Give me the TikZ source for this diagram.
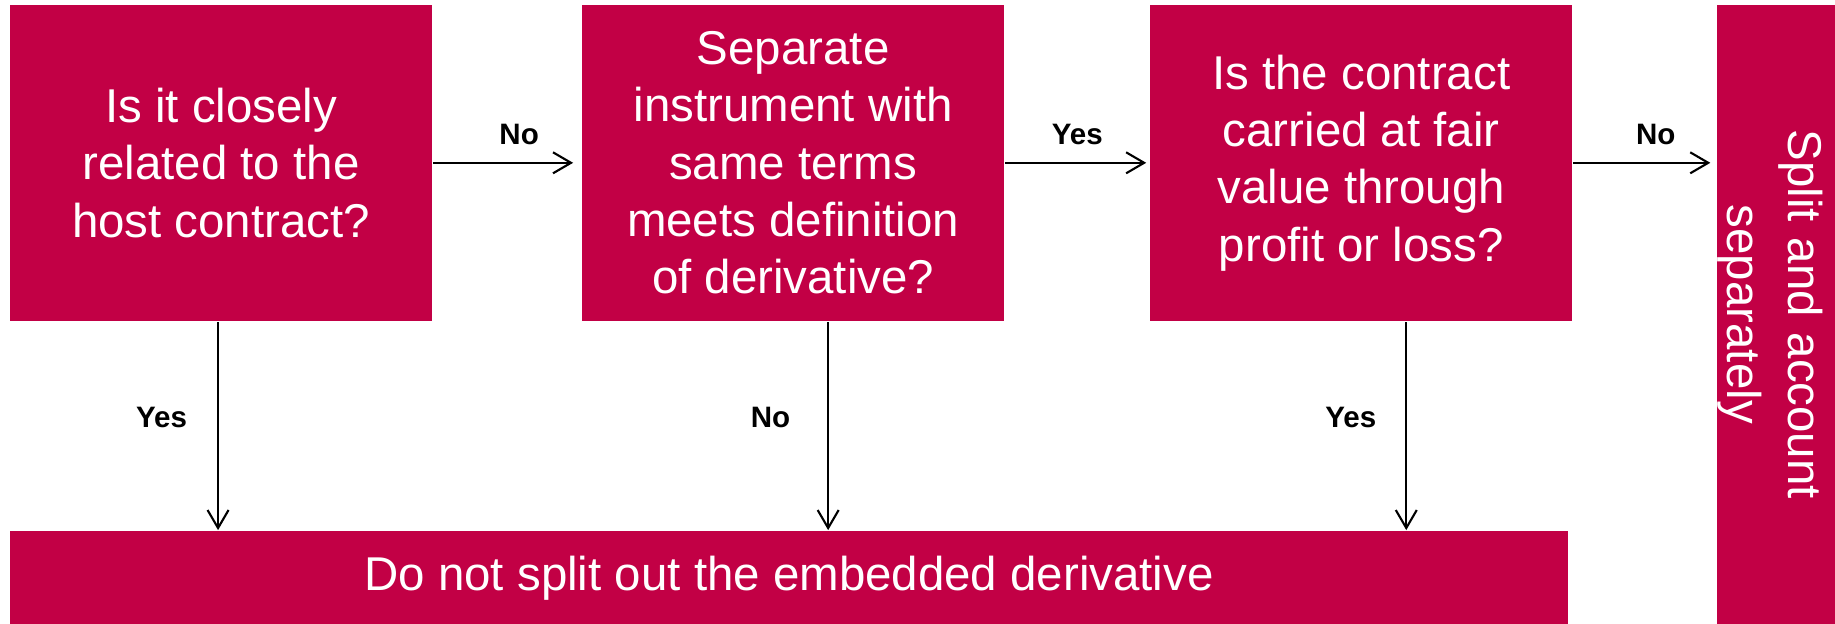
\documentclass[tikz,border=0pt]{standalone}
\usepackage{fontspec}
\setmainfont{Liberation Sans}
\usetikzlibrary{positioning,arrows.meta}
\definecolor{crimson}{HTML}{C20045}
\tikzset{every picture/.style={line width=0.6pt}}
\tikzset{
  qbox/.style={rectangle, fill=crimson, text=white, minimum width=4.22cm, minimum height=3.165cm, align=center, inner sep=0pt, font=\fontsize{13.5}{16.3}\selectfont},
  answer/.style={font=\fontsize{8.4}{10}\selectfont\bfseries, inner sep=0pt},
  flow/.style={-{Straight Barb[length=1.8mm, width=2.1mm]}}
}
\begin{document}
\begin{tikzpicture}
\useasboundingbox (0,0) rectangle (18.35,-6.23);
    % Questions along the top
\node[qbox, anchor=north west] (q1) at (0.09,-0.035) {Is it closely\\related to the\\host contract?};
\node[qbox, right=1.48cm of q1] (q2) {Separate\\instrument with\\same terms\\meets definition\\of derivative?};
\node[qbox, right=1.44cm of q2] (q3) {Is the contract\\carried at fair\\value through\\profit or loss?};

    % Outcomes
\node[rectangle, fill=crimson, minimum width=1.25cm, minimum height=6.195cm, inner sep=0pt, right=1.43cm of q3.north east, anchor=north west] (split) {};
\node[rotate=-90, text=white, text width=5cm, align=center, inner sep=0pt, font=\fontsize{13.5}{17.2}\selectfont] (splittxt) at ([xshift=-0.095cm]split.center) {Split and account\\separately};
\node[rectangle, fill=crimson, text=white, minimum width=15.58cm, minimum height=0.95cm, inner sep=0pt, font=\fontsize{13.5}{16.3}\selectfont, below=2.08cm of q1.south west, anchor=north west] (keep) {Do not split out the embedded derivative};

    % Connections
    \draw[flow, shorten >=0.08cm] (q1.east) -- (q2.west) node[answer, midway, above=0.17cm, xshift=0.12cm] {No};
    \draw[flow, shorten >=0.03cm] (q2.east) -- (q3.west) node[answer, midway, above=0.17cm] {Yes};
    \draw[flow, shorten >=0.06cm] (q3.east) -- (split.west |- q3.east) node[answer, midway, above=0.17cm, xshift=0.11cm] {No};
    \draw[flow] ([xshift=-0.03cm]q1.south) -- ([xshift=-0.03cm]q1.south |- keep.north) node[answer, pos=0.46, left=0.3cm] {Yes};
    \draw[flow] ([xshift=0.35cm]q2.south) -- ([xshift=0.35cm]q2.south |- keep.north) node[answer, pos=0.46, left=0.37cm] {No};
    \draw[flow] ([xshift=0.45cm]q3.south) -- ([xshift=0.45cm]q3.south |- keep.north) node[answer, pos=0.46, left=0.29cm] {Yes};
\end{tikzpicture}
\end{document}
